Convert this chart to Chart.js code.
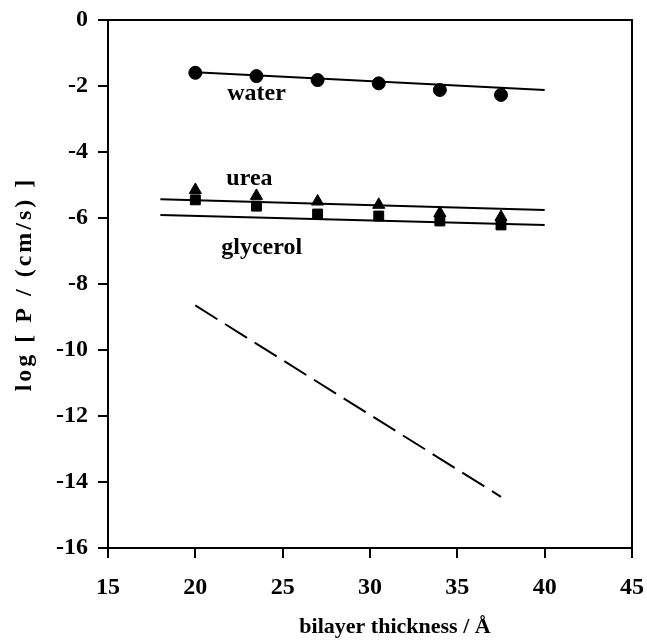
<!DOCTYPE html>
<html>
<head>
<meta charset="utf-8">
<script src="https://cdn.jsdelivr.net/npm/chart.js@4.4.1/dist/chart.umd.min.js"></script>
<style>
  html, body { margin: 0; padding: 0; background: #fff; }
  #wrap { width: 647px; height: 643px; }
</style>
</head>
<body>
<div id="wrap"><canvas id="chart" width="647" height="643"></canvas></div>
<script>
// datos
const thickness = [20, 23.5, 27, 30.5, 34, 37.5];
const waterLogP = [-1.60, -1.70, -1.82, -1.92, -2.12, -2.27];
const ureaLogP = [-5.15, -5.33, -5.50, -5.60, -5.85, -5.97];
const glycerolLogP = [-5.45, -5.64, -5.88, -5.94, -6.09, -6.21];

// rectas de ajuste
const waterFitX = [20, 40];
const waterFitY = [-1.58, -2.12];
const ureaFitX = [18, 40];
const ureaFitY = [-5.43, -5.76];
const glycerolFitX = [18, 40];
const glycerolFitY = [-5.91, -6.21];
// recta discontinua
const dashedX = [20, 37.5];
const dashedY = [-8.65, -14.45];

// etiquetas en el área del gráfico
const labelText = ['water', 'urea', 'glycerol'];
const labelX = [23.5, 23.1, 23.8];
const labelY = [-2.24, -4.82, -6.91];

const xTitle = 'bilayer thickness / Å';
const yTitle = 'log [ P / (cm/s) ]';

const xMin = 15, xMax = 45, xStep = 5;
const yMin = -16, yMax = 0, yStep = 2;

function pts(xs, ys){ return xs.map((x, i) => ({x: x, y: ys[i]})); }

const serif = "'Liberation Serif', 'Times New Roman', serif";

// marco y títulos de ejes
const frame = {
  id: 'frame',
  afterDatasetsDraw(chart){
    const a = chart.chartArea, ctx = chart.ctx;
    ctx.save();
    ctx.strokeStyle = '#000';
    ctx.lineWidth = 2;
    ctx.strokeRect(a.left, a.top, a.right - a.left, a.bottom - a.top);
    ctx.fillStyle = '#000';
    ctx.textAlign = 'center';
    ctx.textBaseline = 'middle';
    ctx.font = 'bold 22px ' + serif;
    ctx.fillText(xTitle, (a.left + a.right) / 2 + 25, 627);
    ctx.font = 'bold 24px ' + serif;
    ctx.translate(25, (a.top + a.bottom) / 2);
    ctx.rotate(-Math.PI / 2);
    ctx.letterSpacing = '3px';
    ctx.fillText(yTitle, 0, 0);
    ctx.restore();
  }
};

const seriesLabels = {
  id: 'seriesLabels',
  afterDatasetsDraw(chart){
    const ctx = chart.ctx, xs = chart.scales.x, ys = chart.scales.y;
    ctx.save();
    ctx.fillStyle = '#000';
    ctx.font = 'bold 24px ' + serif;
    ctx.textAlign = 'center';
    ctx.textBaseline = 'middle';
    labelText.forEach((t, i) => {
      ctx.fillText(t, xs.getPixelForValue(labelX[i]), ys.getPixelForValue(labelY[i]));
    });
    ctx.restore();
  }
};

const lineSet = (xs, ys, dash) => ({
  data: pts(xs, ys),
  showLine: true,
  borderColor: '#000',
  borderWidth: 2,
  borderDash: dash || [],
  pointRadius: 0,
  fill: false
});

const markerSet = (ys, style, r) => ({
  data: pts(thickness, ys),
  showLine: false,
  pointStyle: style,
  pointRadius: r,
  backgroundColor: '#000',
  borderColor: '#000',
  borderWidth: 1
});

new Chart(document.getElementById('chart').getContext('2d'), {
  type: 'scatter',
  data: {
    datasets: [
      lineSet(waterFitX, waterFitY),
      lineSet(ureaFitX, ureaFitY),
      lineSet(glycerolFitX, glycerolFitY),
      lineSet(dashedX, dashedY, [26, 9]),
      markerSet(waterLogP, 'circle', 6.5),
      markerSet(glycerolLogP, 'rect', 7),
      markerSet(ureaLogP, 'triangle', 7)
    ]
  },
  options: {
    responsive: false,
    animation: false,
    layout: { padding: { top: 20, right: 15, left: 0, bottom: 0 } },
    plugins: { legend: { display: false }, tooltip: { enabled: false } },
    scales: {
      x: {
        type: 'linear', min: xMin, max: xMax,
        afterFit(s){ s.height = 95; s.paddingLeft = 0; s.paddingRight = 0; },
        ticks: { stepSize: xStep, color: '#000', padding: 15, font: { family: serif, size: 24, weight: 'bold' } },
        grid: { drawOnChartArea: false, drawTicks: true, tickLength: 10, color: '#000', lineWidth: 2 },
        border: { display: true, color: '#000', width: 2 }
      },
      y: {
        type: 'linear', min: yMin, max: yMax,
        afterFit(s){ s.width = 108; s.paddingTop = 0; s.paddingBottom = 0; },
        ticks: { stepSize: yStep, color: '#000', padding: 10, font: { family: serif, size: 24, weight: 'bold' } },
        grid: { drawOnChartArea: false, drawTicks: true, tickLength: 10, color: '#000', lineWidth: 2 },
        border: { display: true, color: '#000', width: 2 }
      }
    }
  },
  plugins: [frame, seriesLabels]
});
</script>
</body>
</html>
